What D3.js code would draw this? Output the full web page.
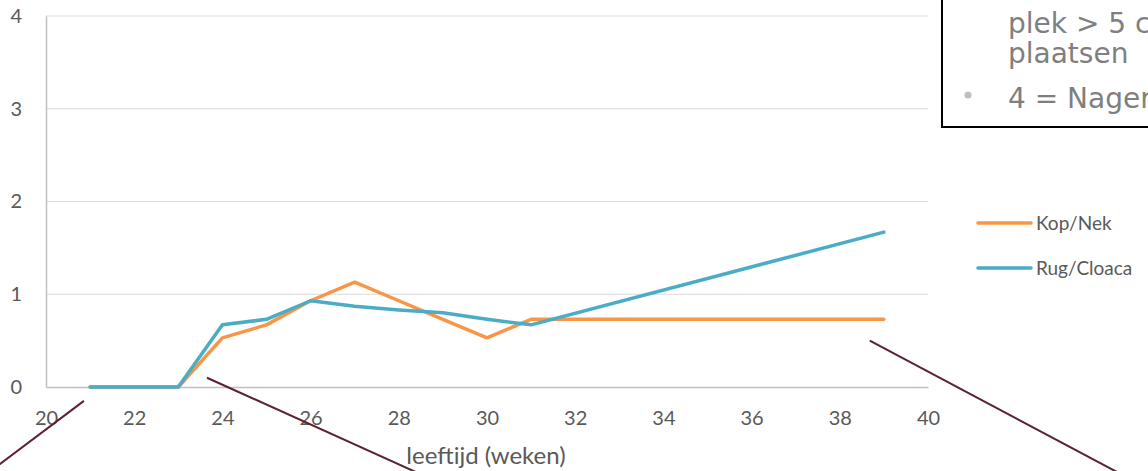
<!DOCTYPE html>
<html>
<head>
<meta charset="utf-8">
<script src="https://cdn.jsdelivr.net/npm/d3@7"></script>
<style>
  html, body { margin: 0; padding: 0; background: #fff; overflow: hidden; }
  svg { display: block; }
</style>
</head>
<body>
<svg width="1148" height="471"></svg>
<script>
// weeks on the x axis
const weeks = [21, 22, 23, 24, 25, 26, 27, 28, 29, 30, 31, 39];
const kopNek = [0, 0, 0, 0.53, 0.67, 0.93, 1.13, 0.93, 0.73, 0.53, 0.73, 0.73];
const rugCloaca = [0, 0, 0, 0.67, 0.73, 0.93, 0.87, 0.83, 0.8, 0.73, 0.67, 1.67];
const xTicks = [20, 22, 24, 26, 28, 30, 32, 34, 36, 38, 40];
const yTicks = [0, 1, 2, 3, 4];
const seriesNames = ['Kop/Nek', 'Rug/Cloaca'];
const seriesColors = ['#f79646', '#4bacc6'];
const boxLines = ['plek > 5 c', 'plaatsen'];
const boxBullet = '4 = Nager';
// callout lines in data units
const callouts = [
  [[20.86, -0.15], [18.9, -0.85]],
  [[23.65, 0.1], [28.4, -0.92]],
  [[38.68, 0.5], [44.3, -0.92]]
];

const svg = d3.select('svg');
const x = d3.scaleLinear().domain([20, 40]).range([46, 928]);
const y = d3.scaleLinear().domain([0, 4]).range([387, 16]);
const font = 'Lato, "Open Sans", sans-serif';

// gridlines
svg.append('g').selectAll('line')
  .data(yTicks.filter(d => d > 0))
  .enter().append('line')
  .attr('x1', x(20)).attr('x2', x(40))
  .attr('y1', d => y(d)).attr('y2', d => y(d))
  .attr('stroke', '#d9d9d9').attr('stroke-width', 1);

// axes
const xAxis = svg.append('g').attr('transform', `translate(0,${y(0)})`)
  .call(d3.axisBottom(x).tickValues(xTicks).tickFormat(d3.format('d')).tickSize(0).tickPadding(24));
const yAxis = svg.append('g').attr('transform', `translate(${x(20)},0)`)
  .call(d3.axisLeft(y).tickValues(yTicks).tickFormat(d3.format('d')).tickSize(0).tickPadding(24));
[xAxis, yAxis].forEach(a => {
  a.select('.domain').attr('stroke', '#bfbfbf').attr('stroke-width', 1.5);
  a.selectAll('text').attr('fill', '#595959').style('font-family', font).style('font-size', '20px');
});

svg.append('text')
  .attr('x', 486).attr('y', 464)
  .attr('text-anchor', 'middle')
  .attr('fill', '#595959')
  .style('font-family', font).style('font-size', '24px')
  .text('leeftijd (weken)');

// series
const line = d3.line().x(d => x(d[0])).y(d => y(d[1]));
[kopNek, rugCloaca].forEach((vals, i) => {
  svg.append('path')
    .datum(weeks.map((w, j) => [w, vals[j]]))
    .attr('d', line)
    .attr('fill', 'none')
    .attr('stroke', seriesColors[i])
    .attr('stroke-width', 3.5)
    .attr('stroke-linejoin', 'round')
    .attr('stroke-linecap', 'round');
});

// legend
const legend = svg.append('g').selectAll('g')
  .data(seriesNames)
  .enter().append('g')
  .attr('transform', (d, i) => `translate(978,${223 + i * 45})`);
legend.append('line')
  .attr('x1', 0).attr('x2', 53)
  .attr('stroke', (d, i) => seriesColors[i])
  .attr('stroke-width', 3.5).attr('stroke-linecap', 'round');
legend.append('text')
  .attr('x', 58).attr('dy', '0.35em')
  .attr('fill', '#595959')
  .style('font-family', font).style('font-size', '19px')
  .text(d => d);

// text box top right
svg.append('rect')
  .attr('x', 942).attr('y', -5).attr('width', 300).attr('height', 132)
  .attr('fill', '#fff').attr('stroke', '#000').attr('stroke-width', 2);
const boxText = svg.append('g')
  .style('font-family', '"DejaVu Sans", sans-serif').style('font-size', '28px')
  .attr('fill', '#7f7f7f');
boxText.selectAll('text.l')
  .data(boxLines)
  .enter().append('text')
  .attr('class', 'l')
  .attr('x', 1008).attr('y', (d, i) => 33 + i * 30)
  .text(d => d);
boxText.append('circle').attr('cx', 968).attr('cy', 95).attr('r', 3.5).attr('fill', '#bfbfbf');
boxText.append('text').attr('x', 1008).attr('y', 108).text(boxBullet);

// callout lines
svg.append('g').selectAll('line')
  .data(callouts)
  .enter().append('line')
  .attr('x1', d => x(d[0][0])).attr('y1', d => y(d[0][1]))
  .attr('x2', d => x(d[1][0])).attr('y2', d => y(d[1][1]))
  .attr('stroke', '#5a2130').attr('stroke-width', 2);
</script>
</body>
</html>
